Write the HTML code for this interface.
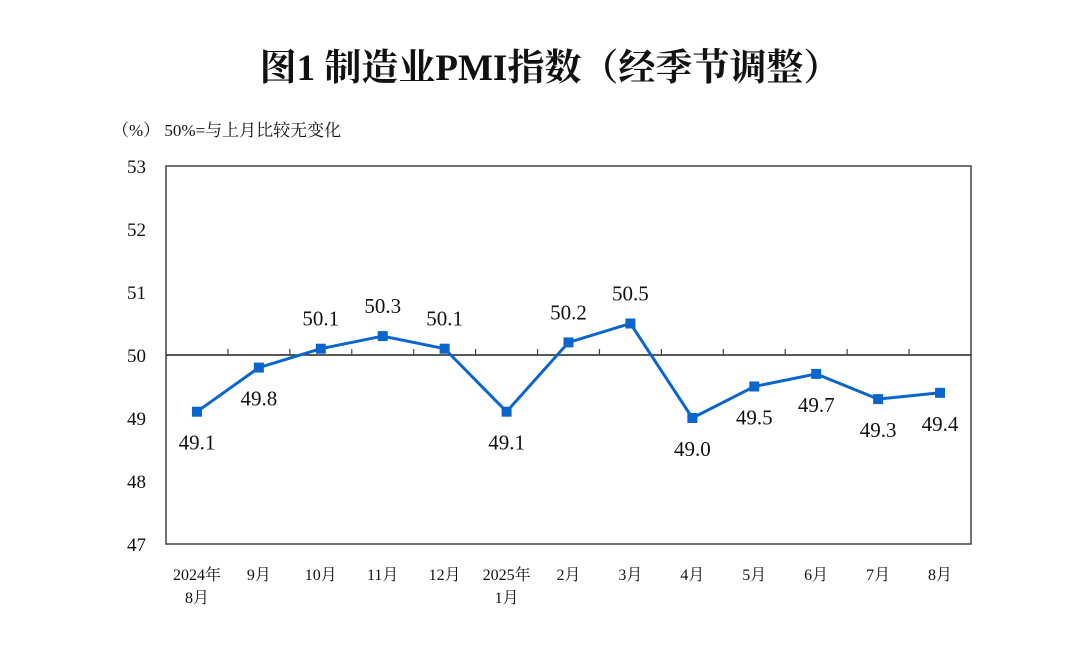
<!DOCTYPE html>
<html><head><meta charset="utf-8"><style>
body{margin:0;background:#fff}
svg{display:block}
text{font-family:"Liberation Serif","Noto Serif CJK SC",serif;fill:#111}
</style></head><body>
<svg width="1080" height="645">
<text x="550" y="80" text-anchor="middle" font-size="37" font-weight="bold">图1  制造业PMI指数（经季节调整）</text>
<text x="112" y="136" font-size="17" fill="#333">（%） 50%=与上月比较无变化</text>
<g id="g"></g>
</svg>
<script>
const cats1=["2024年","9月","10月","11月","12月","2025年","2月","3月","4月","5月","6月","7月","8月"];
const cats2=["8月","","","","","1月","","","","","","",""];
const values=[49.1,49.8,50.1,50.3,50.1,49.1,50.2,50.5,49.0,49.5,49.7,49.3,49.4];
const yTicks=[47,48,49,50,51,52,53];
const L=166,R=971,T=166,B=544,ymin=47,ymax=53;
const cw=(R-L)/cats1.length;
const X=i=>L+cw*(i+0.5);
const Y=v=>B-(v-ymin)/(ymax-ymin)*(B-T);
const ns="http://www.w3.org/2000/svg",g=document.getElementById('g');
function mk(t,a,txt){const e=document.createElementNS(ns,t);for(const k in a)e.setAttribute(k,a[k]);if(txt!=null)e.textContent=txt;g.appendChild(e);return e;}
let e=mk('rect',{x:L,y:T,width:R-L,height:B-T,fill:'none',stroke:'#444','stroke-width':1.5});


e=mk('line',{x1:L,x2:R,y1:Y(50),y2:Y(50),stroke:'#222','stroke-width':1.5});


for(let i=1;i<cats1.length;i++){e=mk('line',{x1:L+cw*i,x2:L+cw*i,y1:Y(50),y2:Y(50)-6,stroke:'#444','stroke-width':1.2});

}
yTicks.forEach(v=>{e=mk('text',{x:146,y:Y(v)+7,'text-anchor':'end','font-size':19},v);

});
cats1.forEach((c,i)=>{e=mk('text',{x:X(i),y:580,'text-anchor':'middle','font-size':16},c);


if(cats2[i]){e=mk('text',{x:X(i),y:603,'text-anchor':'middle','font-size':16},cats2[i]);

}});
e=mk('polyline',{points:values.map((v,i)=>X(i)+','+Y(v)).join(' '),fill:'none',stroke:'#0a66cc','stroke-width':3});


values.forEach((v,i)=>{e=mk('rect',{x:X(i)-5,y:Y(v)-5,width:10,height:10,fill:'#0a66cc'});


const up=v>=50;
e=mk('text',{x:X(i),y:up?Y(v)-23:Y(v)+38,'text-anchor':'middle','font-size':21},v.toFixed(1));

});
</script>
</body></html>
